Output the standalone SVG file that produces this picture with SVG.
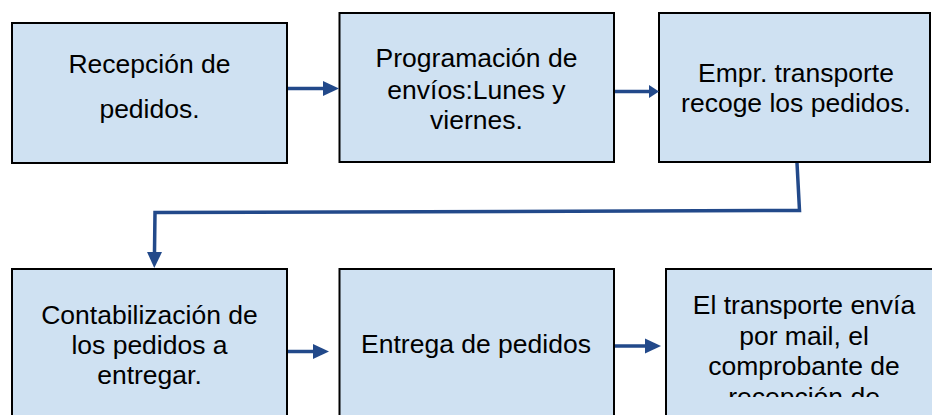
<svg xmlns="http://www.w3.org/2000/svg" width="932" height="415" viewBox="0 0 932 415">
  <defs>
    <style>
      .box { fill: #cfe1f2; stroke: #000; stroke-width: 2; }
      .lbl { font-family: "Liberation Sans", Arial, sans-serif; font-size: 26.5px; fill: #000; text-anchor: middle; }
      .conn { fill: none; stroke: #22498a; stroke-width: 3.5; }
    </style>
    <marker id="ah" markerUnits="userSpaceOnUse" markerWidth="16" markerHeight="16" refX="0" refY="7.5" orient="auto" viewBox="0 0 16 15">
      <path d="M0,0 L16,7.5 L0,15 z" fill="#22498a"/>
    </marker>
    <marker id="ahs" markerUnits="userSpaceOnUse" markerWidth="10" markerHeight="14" refX="0" refY="6.5" orient="auto" viewBox="0 0 10 13">
      <path d="M0,0 L10,6.5 L0,13 z" fill="#22498a"/>
    </marker>
    <clipPath id="clip6">
      <rect x="660" y="270" width="272" height="127"/>
    </clipPath>
  </defs>
  <rect width="932" height="415" fill="#fff"/>

  <g id="n1">
    <rect class="box" x="12" y="23" width="275" height="140"/>
    <text class="lbl" x="149.5" y="73">Recepción de</text>
    <text class="lbl" x="149.5" y="118">pedidos.</text>
  </g>
  <g id="n2">
    <rect class="box" x="339.5" y="13" width="274.5" height="149"/>
    <text class="lbl" x="476.5" y="67">Programación de</text>
    <text class="lbl" x="476.5" y="98.5">envíos:Lunes y</text>
    <text class="lbl" x="476.5" y="128.5">viernes.</text>
  </g>
  <g id="n3">
    <rect class="box" x="659" y="13" width="271" height="149"/>
    <text class="lbl" x="796" y="82">Empr. transporte</text>
    <text class="lbl" x="796" y="112">recoge los pedidos.</text>
  </g>
  <g id="n4">
    <rect class="box" x="12" y="269" width="275" height="160"/>
    <text class="lbl" x="149.5" y="324">Contabilización de</text>
    <text class="lbl" x="149.5" y="354">los pedidos a</text>
    <text class="lbl" x="149.5" y="384">entregar.</text>
  </g>
  <g id="n5">
    <rect class="box" x="339.5" y="269" width="274.5" height="160"/>
    <text class="lbl" x="476" y="353">Entrega de pedidos</text>
  </g>
  <g id="n6">
    <rect class="box" x="666" y="269" width="280" height="160"/>
    <g clip-path="url(#clip6)">
      <text class="lbl" x="804" y="314">El transporte envía</text>
      <text class="lbl" x="804" y="344.5">por mail, el</text>
      <text class="lbl" x="804" y="375">comprobante de</text>
      <text class="lbl" x="804" y="405.5">recepción de</text>
    </g>
  </g>

  <g id="connectors">
    <path class="conn" d="M288,88.5 L323,88.5" marker-end="url(#ah)"/>
    <path class="conn" d="M615,91.5 L649,91.5" marker-end="url(#ahs)"/>
    <path class="conn" d="M797,163 L799.5,210.5 L155,212.5 L154.5,252" marker-end="url(#ah)"/>
    <path class="conn" d="M288,351.5 L313,351.5" marker-end="url(#ah)"/>
    <path class="conn" d="M615,346 L645,346" marker-end="url(#ah)"/>
  </g>
</svg>
